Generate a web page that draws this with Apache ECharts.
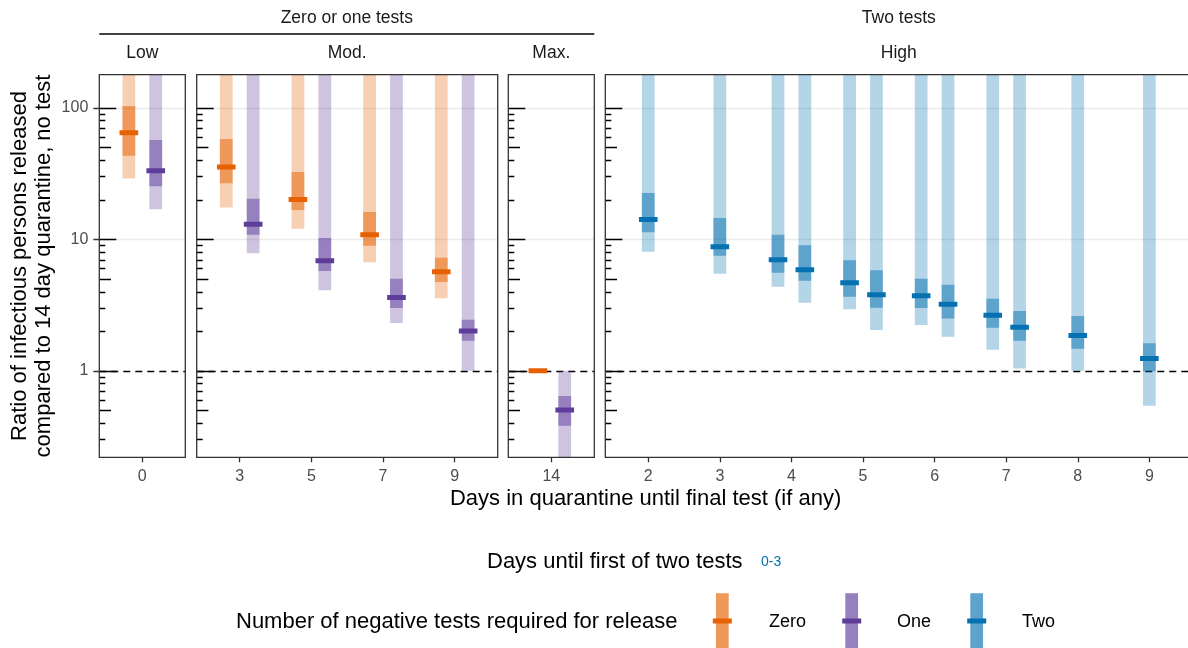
<!DOCTYPE html>
<html>
<head>
<meta charset="utf-8">
<script src="https://cdn.jsdelivr.net/npm/echarts@6/dist/echarts.min.js"></script>
<style>
  html, body { margin: 0; padding: 0; background: #ffffff; }
  #chart { width: 1188px; height: 648px; }
</style>
</head>
<body>
<div id="chart"></div>
<script>
// ---- Data -------------------------------------------------------------
// Zero / one test strategies: day of release and facet each result belongs to
const zeroOneDays   = ['0', '3', '5', '7', '9', '14'];
const zeroOnePanels = ['Low', 'Mod.', 'Mod.', 'Mod.', 'Mod.', 'Max.'];

// Zero negative tests required
const zeroMedian = [64.5, 35.4, 20.0, 10.8, 5.66, 1.0];
const zeroLo50   = [43.2, 26.6, 16.7, 8.92, 4.73, 1.0];
const zeroHi50   = [103, 57.8, 32.4, 16.1, 7.23, 1.0];
const zeroLo95   = [29.0, 17.4, 12.0, 6.67, 3.55, 1.0];
const zeroHi95   = [400, 400, 400, 400, 400, 1.0];

// One negative test required
const oneMedian = [33.2, 13.0, 6.86, 3.61, 2.0, 0.503];
const oneLo50   = [25.3, 10.8, 5.73, 3.0, 1.69, 0.382];
const oneHi50   = [56.8, 20.3, 10.2, 5.01, 2.44, 0.642];
const oneLo95   = [16.9, 7.81, 4.09, 2.31, 1.0, 0.15];
const oneHi95   = [400, 400, 400, 400, 400, 1.0];

// Two negative tests required (days 4-7 have two first-test timings each)
const twoDays   = ['2', '3', '4', '4', '5', '5', '6', '6', '7', '7', '8', '9'];
const twoPanels = ['High', 'High', 'High', 'High', 'High', 'High', 'High', 'High', 'High', 'High', 'High', 'High'];
const twoMedian = [14.1, 8.77, 6.98, 5.86, 4.67, 3.78, 3.72, 3.20, 2.64, 2.14, 1.85, 1.24];
const twoLo50   = [11.3, 7.49, 5.56, 4.84, 3.65, 3.01, 3.0, 2.49, 2.12, 1.69, 1.47, 0.99];
const twoHi50   = [22.5, 14.5, 10.8, 8.99, 6.91, 5.80, 5.01, 4.51, 3.53, 2.84, 2.61, 1.62];
const twoLo95   = [8.04, 5.47, 4.35, 3.29, 2.93, 2.04, 2.23, 1.81, 1.44, 1.04, 1.0, 0.542];
const twoHi95   = [400, 400, 400, 400, 400, 400, 400, 400, 400, 400, 400, 400];

// Facets and their headers
const panelNames   = ['Low', 'Mod.', 'Max.', 'High'];
const outerStrips  = ['Zero or one tests', 'Two tests'];
const groupNames   = ['Zero', 'One', 'Two'];

// Log-axis ticks
const yLabelValues = [1, 10, 100];
const yLabelTexts  = ['1', '10', '100'];
const gridLineValues = [10, 100];
const refLineValue = 1;
const logTicksMid   = [0.5, 5, 50];
const logTicksMinor = [0.3, 0.4, 0.6, 0.7, 0.8, 0.9, 2, 3, 4, 6, 7, 8, 9, 20, 30, 40, 60, 70, 80, 90];

// ---- Styling / layout -------------------------------------------------
const FONT = '"Liberation Sans", Arial, Helvetica, sans-serif';
const COLORS = { Zero: '#e66101', One: '#5e3c99', Two: '#0571b0' };
const PANEL_TOP = 74.7, PANEL_H = 382.6;
const PANEL_BOX = {
  'Low':  { left: 99.3,  width: 86 },
  'Mod.': { left: 196.7, width: 301 },
  'Max.': { left: 508.3, width: 86 },
  'High': { left: 605.3, width: 587 }
};
const Y_MIN = 0.2195, Y_MAX = 178.2;
const DODGE = 0.1875, BAR_W = 0.178, MED_W = 0.26;

function rgba(hex, a) {
  const n = parseInt(hex.slice(1), 16);
  return 'rgba(' + (n >> 16) + ',' + ((n >> 8) & 255) + ',' + (n & 255) + ',' + a + ')';
}

// Category order within each facet, taken from the data
const panelCats = {};
panelNames.forEach(p => { panelCats[p] = []; });
function addCats(days, panels) {
  days.forEach((d, i) => {
    const list = panelCats[panels[i]];
    if (list.indexOf(d) < 0) list.push(d);
  });
}
addCats(zeroOneDays, zeroOnePanels);
addCats(twoDays, twoPanels);

// Rows: [xIndex, lo95, hi95, lo50, hi50, median, dodgeSlot, groupIndex]
const panelRows = {};
panelNames.forEach(p => { panelRows[p] = []; });
function pushGroup(g, days, panels, lo95, hi95, lo50, hi50, med, slotFn) {
  days.forEach((d, i) => {
    const p = panels[i];
    panelRows[p].push([panelCats[p].indexOf(d), lo95[i], hi95[i], lo50[i], hi50[i], med[i], slotFn(i), g]);
  });
}
pushGroup(0, zeroOneDays, zeroOnePanels, zeroLo95, zeroHi95, zeroLo50, zeroHi50, zeroMedian, () => -1);
pushGroup(1, zeroOneDays, zeroOnePanels, oneLo95, oneHi95, oneLo50, oneHi50, oneMedian, () => 1);
// two-test results sharing a day are dodged side by side
const dayCount = {}, daySeen = {};
twoDays.forEach(d => { dayCount[d] = (dayCount[d] || 0) + 1; });
pushGroup(2, twoDays, twoPanels, twoLo95, twoHi95, twoLo50, twoHi50, twoMedian, i => {
  const d = twoDays[i];
  if (dayCount[d] < 2) return 0;
  daySeen[d] = (daySeen[d] || 0) + 1;
  return daySeen[d] === 1 ? -1 : 1;
});

function renderInterval(params, api) {
  const xi = api.value(0);
  const base = api.coord([xi, 1]);
  const unit = api.coord([xi + 1, 1])[0] - base[0];
  const cx = base[0] + api.value(6) * DODGE * unit;
  const col = COLORS[groupNames[api.value(7)]];
  const bw = BAR_W * unit, mw = MED_W * unit;
  const yHi95 = api.coord([xi, api.value(2)])[1];
  const yLo95 = api.coord([xi, api.value(1)])[1];
  const yHi50 = api.coord([xi, api.value(4)])[1];
  const yLo50 = api.coord([xi, api.value(3)])[1];
  const yMed  = api.coord([xi, api.value(5)])[1];
  return {
    type: 'group',
    children: [
      { type: 'rect', shape: { x: cx - bw / 2, y: yHi95, width: bw, height: yLo95 - yHi95 },
        style: { fill: rgba(col, 0.3) } },
      { type: 'rect', shape: { x: cx - bw / 2, y: yHi50, width: bw, height: yLo50 - yHi50 },
        style: { fill: rgba(col, 0.5) } },
      { type: 'rect', shape: { x: cx - mw / 2, y: yMed - 2.5, width: mw, height: 5 },
        style: { fill: col } }
    ]
  };
}

// Background layer: grid lines, the reference line at 1 and log ticks.
// kind: 0 long tick, 1 mid tick, 2 short tick, 3 grid line, 4 dashed reference line
const backRows = [];
gridLineValues.forEach(v => backRows.push([v, 3]));
backRows.push([refLineValue, 4]);
yLabelValues.forEach(v => backRows.push([v, 0]));
logTicksMid.forEach(v => backRows.push([v, 1]));
logTicksMinor.forEach(v => backRows.push([v, 2]));
const TICK_LEN = [17, 11.7, 6];

function makeBackRenderer(withOuter) {
  return function (params, api) {
    const y = Math.round(api.coord([0, api.value(0)])[1]) + 0.5;
    const cs = params.coordSys;
    const x0 = cs.x;
    const kind = api.value(1);
    if (kind === 3) {
      return { type: 'line', shape: { x1: x0, y1: y, x2: x0 + cs.width, y2: y },
               style: { stroke: '#ebebeb', lineWidth: 1.3 } };
    }
    if (kind === 4) {
      return { type: 'line', shape: { x1: x0, y1: y, x2: x0 + cs.width, y2: y },
               style: { stroke: '#000', lineWidth: 1.6, lineDash: [7, 5] } };
    }
    const children = [{
      type: 'line',
      shape: { x1: x0, y1: y, x2: x0 + TICK_LEN[kind], y2: y },
      style: { stroke: '#000', lineWidth: 1.5 }
    }];
    if (withOuter && kind === 0) {
      children.push({
        type: 'line',
        shape: { x1: x0 - 6, y1: y, x2: x0, y2: y },
        style: { stroke: '#333', lineWidth: 1.5 }
      });
    }
    return { type: 'group', children };
  };
}

// Panel frame drawn above the marks
function renderFrame(params, api) {
  const cs = params.coordSys;
  return { type: 'rect', shape: { x: cs.x, y: cs.y, width: cs.width, height: cs.height },
           style: { fill: null, stroke: '#333333', lineWidth: 1.3 } };
}

const grids = [], xAxes = [], yAxes = [], series = [];
panelNames.forEach((p, i) => {
  const box = PANEL_BOX[p];
  const cats = panelCats[p];
  const idx = cats.map((c, k) => k);
  grids.push({
    left: box.left, top: PANEL_TOP, width: box.width, height: PANEL_H,
    show: false, containLabel: false, outerBoundsMode: 'none'
  });
  xAxes.push({
    type: 'value', gridIndex: i, min: -0.6, max: cats.length - 1 + 0.6,
    axisLine: { show: false }, splitLine: { show: false },
    axisTick: { show: true, customValues: idx, length: 5, lineStyle: { color: '#333', width: 1.3 } },
    axisLabel: {
      show: true, customValues: idx, formatter: v => cats[Math.round(v)],
      color: '#4d4d4d', fontSize: 16, fontFamily: FONT, margin: 11
    }
  });
  yAxes.push({
    type: 'log', gridIndex: i, min: Y_MIN, max: Y_MAX, logBase: 10,
    axisLine: { show: false }, axisTick: { show: false },
    splitLine: { show: false }, minorTick: { show: false }, minorSplitLine: { show: false },
    axisLabel: {
      show: i === 0, color: '#4d4d4d', fontSize: 16, fontFamily: FONT, margin: 11,
      formatter: v => {
        for (let k = 0; k < yLabelValues.length; k++) {
          if (Math.abs(v - yLabelValues[k]) / yLabelValues[k] < 1e-6) return yLabelTexts[k];
        }
        return '';
      }
    }
  });
  series.push({
    type: 'custom', xAxisIndex: i, yAxisIndex: i, z: 1, clip: false, silent: true,
    data: backRows, encode: { y: 0 },
    renderItem: makeBackRenderer(i === 0)
  });
  series.push({
    type: 'custom', xAxisIndex: i, yAxisIndex: i, z: 3, clip: true, silent: true,
    data: panelRows[p], encode: { x: 0, y: [1, 2] },
    renderItem: renderInterval
  });
  series.push({
    type: 'custom', xAxisIndex: i, yAxisIndex: i, z: 5, clip: false, silent: true,
    data: [[0, 1]], encode: { x: 0, y: 1 },
    renderItem: renderFrame
  });
});

// ---- Strips, titles and legend -----------------------------------------
const stripY1 = 18, stripY2 = 53;
function spanOf(names) {
  const l = PANEL_BOX[names[0]].left;
  const last = PANEL_BOX[names[names.length - 1]];
  const r = last.left + last.width;
  return [l, r, (l + r) / 2];
}
const txt = (x, y, text, size, color, align) => ({
  type: 'text', x, y,
  style: { text, fontSize: size, fontFamily: FONT, fill: color, align: align || 'center', verticalAlign: 'middle' }
});

const graphics = [];
const span1 = spanOf(['Low', 'Mod.', 'Max.']);
const span2 = spanOf(['High']);
graphics.push(txt(span1[2], stripY1, outerStrips[0], 17.5, '#1a1a1a'));
graphics.push({ type: 'line', shape: { x1: span1[0], y1: 34, x2: span1[1], y2: 34 }, style: { stroke: '#000', lineWidth: 1.5 } });
graphics.push(txt(span2[2], stripY1, outerStrips[1], 17.5, '#1a1a1a'));
panelNames.forEach(p => {
  const b = PANEL_BOX[p];
  graphics.push(txt(b.left + b.width / 2, stripY2, p, 17.5, '#1a1a1a'));
});

// axis titles
graphics.push(txt(645.6, 499, 'Days in quarantine until final test (if any)', 22, '#000'));
graphics.push({
  type: 'text', x: 32, y: 266, rotation: Math.PI / 2,
  style: {
    text: 'Ratio of infectious persons released\ncompared to 14 day quarantine, no test',
    fontSize: 22, lineHeight: 24.5, fontFamily: FONT, fill: '#000', align: 'center', verticalAlign: 'middle'
  }
});

// legend: days until first test
graphics.push(txt(487, 562, 'Days until first of two tests', 22, '#000', 'left'));
graphics.push(txt(761, 562, '0-3', 14, COLORS.Two, 'left'));

// legend: negative tests required
graphics.push(txt(236, 622, 'Number of negative tests required for release', 22, '#000', 'left'));
const keyX = [722.3, 851.7, 976.7];
const keyLabelX = [769, 897, 1022];
groupNames.forEach((g, k) => {
  const col = COLORS[g];
  graphics.push({ type: 'rect', shape: { x: keyX[k] - 6.35, y: 593.3, width: 12.7, height: 60 }, style: { fill: rgba(col, 0.3) } });
  graphics.push({ type: 'rect', shape: { x: keyX[k] - 6.35, y: 593.3, width: 12.7, height: 60 }, style: { fill: rgba(col, 0.5) } });
  graphics.push({ type: 'rect', shape: { x: keyX[k] - 9.5, y: 618.5, width: 19, height: 5 }, style: { fill: col } });
  graphics.push(txt(keyLabelX[k], 622, g, 18, '#000', 'left'));
});

const chart = echarts.init(document.getElementById('chart'), null, { renderer: 'canvas' });
chart.setOption({
  animation: false,
  backgroundColor: '#ffffff',
  textStyle: { fontFamily: FONT },
  grid: grids,
  xAxis: xAxes,
  yAxis: yAxes,
  series: series,
  graphic: { elements: graphics }
});
</script>
</body>
</html>
